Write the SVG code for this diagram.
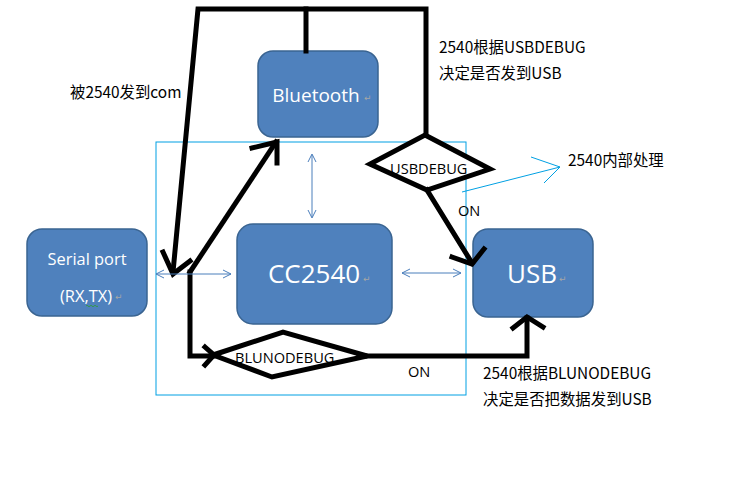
<svg xmlns="http://www.w3.org/2000/svg" width="730" height="482" viewBox="0 0 730 482">
<defs>
<style>
.box{fill:#4f81bd;stroke:#3a6491;stroke-width:1.5}
.bt{fill:#fff;font-family:"Open Sans","Noto Sans",sans-serif;text-anchor:middle}
.pm{fill:#a6a6a6;font-family:"DejaVu Sans",sans-serif;font-size:9px}
.thick{fill:none;stroke:#000;stroke-width:5;stroke-linejoin:miter;stroke-linecap:square}
.thin{fill:none;stroke:#4a7ebb;stroke-width:1}
.lb{fill:none;stroke:#00a0e3;stroke-width:1}
.t{fill:#000;font-family:"Noto Sans CJK SC","Noto Sans",sans-serif;font-size:15.4px}
.d{fill:#000;font-family:"Open Sans","Noto Sans",sans-serif;font-size:14.6px}
</style>
</defs>
<rect width="730" height="482" fill="#fff"/>
<rect x="156" y="142" width="310" height="253" class="lb"/>
<g id="bluetooth">
<rect x="258" y="51" width="120" height="86" rx="15" class="box"/>
<text x="316" y="102" class="bt" font-size="19">Bluetooth</text>
<text x="364" y="101" class="pm">↵</text>
</g>
<g id="cc2540">
<rect x="237" y="224" width="155" height="100" rx="16" class="box"/>
<text x="314" y="283" class="bt" font-size="26">CC2540</text>
<text x="363" y="282" class="pm">↵</text>
</g>
<g id="serial">
<rect x="27" y="229" width="120" height="87" rx="15" class="box"/>
<text x="87" y="265" class="bt" font-size="16.4">Serial port</text>
<text x="86" y="302" class="bt" font-size="16.4">(RX,TX)</text>
<path d="M86 306 q1 -1.5 2 0 t2 0 t2 0 t2 0 t2 0 t2 0" fill="none" stroke="#2e9e2e" stroke-width="0.8"/>
<text x="115" y="300" class="pm">↵</text>
</g>
<g id="usb">
<rect x="473" y="229" width="120" height="88" rx="15" class="box"/>
<text x="532" y="283" class="bt" font-size="26">USB</text>
<text x="559" y="282" class="pm">↵</text>
</g>
<g id="usbdebug">
<polygon points="425,135 490,169 427,190 370,164" fill="#fff" stroke="#000" stroke-width="5" stroke-linejoin="miter"/>
<text x="390" y="174" class="d">USBDEBUG</text>
</g>
<g id="blunodebug">
<polygon points="213,355 283,332 367,356 272,377" fill="#fff" stroke="#000" stroke-width="5" stroke-linejoin="miter"/>
<text x="235" y="363" class="d">BLUNODEBUG</text>
</g>
<g id="connectors">
<polyline points="173,272 198,9 426,9 426,135" class="thick"/>
<line x1="306" y1="9" x2="306" y2="51" class="thick"/>
<polyline points="163,252 173,274 190,261" class="thick"/>
<polyline points="190,272 276,142" class="thick"/>
<polyline points="252,148 277,142 277,163" class="thick"/>
<polyline points="190,272 190,356 213,356" class="thick"/>
<polyline points="205,347 214,355 205,365" class="thick"/>
<polyline points="427,190 472,263" class="thick"/>
<polyline points="452,257 472,264 484,249" class="thick"/>
<polyline points="367,356 527,356 527,318" class="thick"/>
<polyline points="513,328 527,317 543,327" class="thick"/>
<line x1="312" y1="155" x2="312" y2="217" class="thin"/>
<polyline points="308,162 312,154 316,162" class="thin"/>
<polyline points="308,210 312,218 316,210" class="thin"/>
<line x1="156" y1="274" x2="231" y2="274" class="thin"/>
<polyline points="164,270 156,274 164,278" class="thin"/>
<polyline points="223,270 231,274 223,278" class="thin"/>
<line x1="402" y1="273" x2="461" y2="273" class="thin"/>
<polyline points="410,269 402,273 410,277" class="thin"/>
<polyline points="453,269 461,273 453,277" class="thin"/>
<line x1="462" y1="192" x2="560" y2="167" class="lb"/>
<polyline points="531,157 560,167 544,183" class="lb"/>
</g>
<text x="458" y="216" class="d" font-size="16">ON</text>
<text x="408" y="377" class="d" font-size="16">ON</text>
<text x="70" y="98" class="t" font-size="16.4">被2540发到com</text>
<text x="439" y="53" class="t">2540根据USBDEBUG</text>
<text x="439" y="79" class="t">决定是否发到USB</text>
<text x="568" y="166" class="t">2540内部处理</text>
<text x="483" y="379" class="t">2540根据BLUNODEBUG</text>
<text x="483" y="405" class="t">决定是否把数据发到USB</text>
</svg>
